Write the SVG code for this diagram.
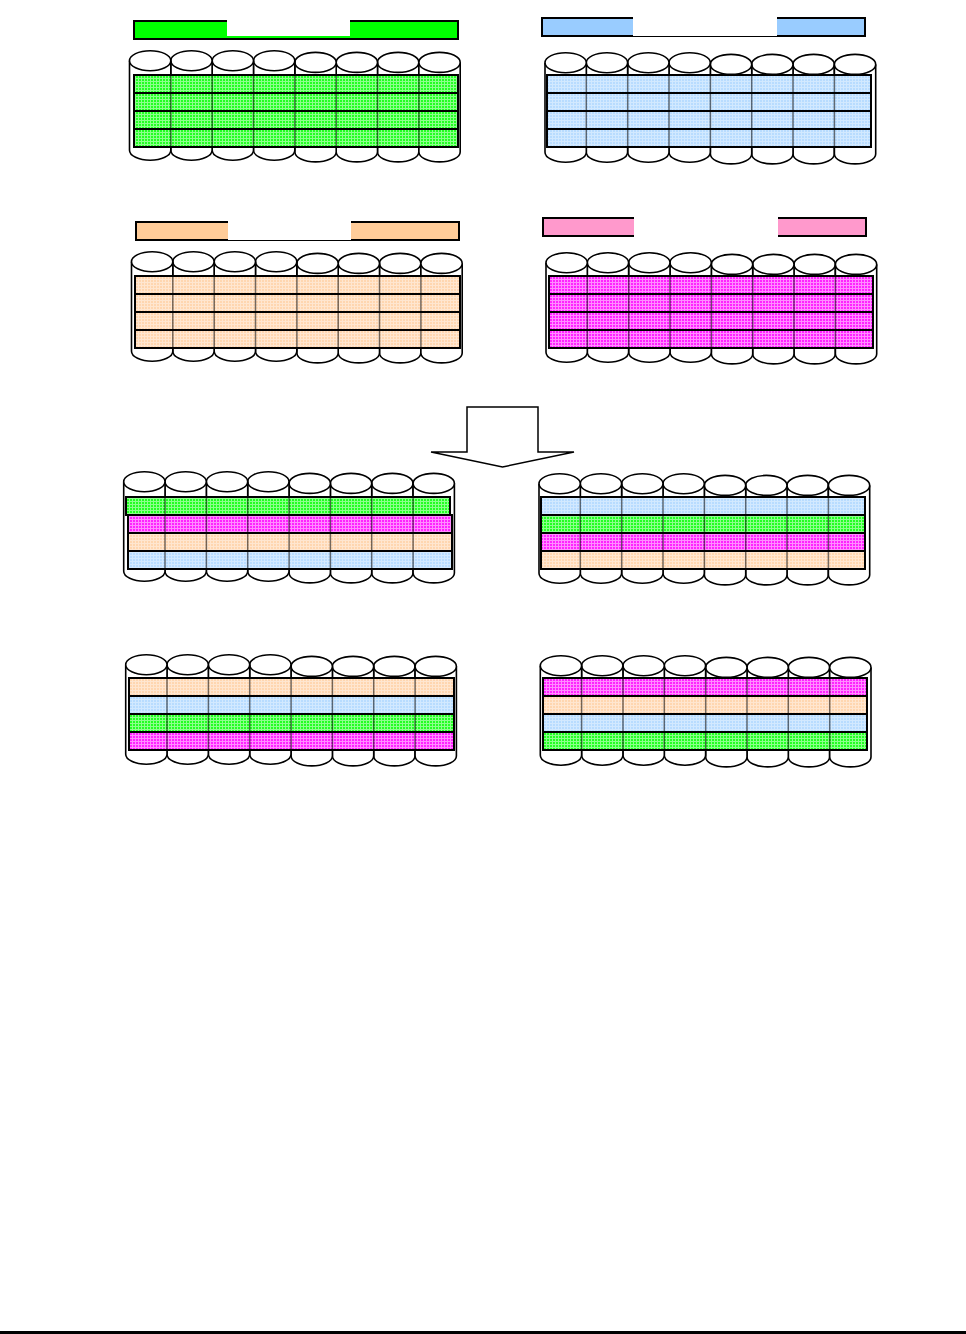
<svg xmlns="http://www.w3.org/2000/svg" width="966" height="1334" viewBox="0 0 966 1334">
<style>
.c{fill:#fff;stroke:#000;stroke-width:1.6}
.v{fill:none;stroke:#000;stroke-width:1.5;stroke-opacity:.55}
.b{stroke:#000;stroke-width:2}
.bar{stroke:#000;stroke-width:2}
.w{fill:#fff}
</style>
<defs>
<pattern id="pg" width="3" height="3" patternUnits="userSpaceOnUse"><rect width="3" height="3" fill="#22ff22"/><path d="M0 .5H3M.5 0V3" stroke="#8cff8c" stroke-width="1"/></pattern>
<pattern id="pb" width="3" height="3" patternUnits="userSpaceOnUse"><rect width="3" height="3" fill="#b8dcff"/><path d="M0 .5H3M.5 0V3" stroke="#d2e9ff" stroke-width="1"/></pattern>
<pattern id="po" width="3" height="3" patternUnits="userSpaceOnUse"><rect width="3" height="3" fill="#ffd6b0"/><path d="M0 .5H3M.5 0V3" stroke="#ffe6d0" stroke-width="1"/></pattern>
<pattern id="pm" width="3" height="3" patternUnits="userSpaceOnUse"><rect width="3" height="3" fill="#ff22ff"/><path d="M0 .5H3M.5 0V3" stroke="#ff8cff" stroke-width="1"/></pattern>
<g id="cyl"><path class="c" d="M0 10V99.5A20.65 10 0 0 0 41.3 99.5V10"/><ellipse class="c" cx="20.65" cy="10" rx="20.65" ry="10"/></g>
<g id="bank">
<use href="#cyl" x="248" y="1.7"/><use href="#cyl" x="289.4" y="1.7"/><use href="#cyl" x="206.7" y="1.7"/><use href="#cyl" x="165.4" y="1.7"/>
<use href="#cyl" x="124" y="0"/><use href="#cyl" x="82.7" y="0"/><use href="#cyl" x="41.3" y="0"/><use href="#cyl" x="0" y="0"/>
</g>
<path id="lines" class="v" d="M41.3 0V72M82.7 0V72M124 0V72M165.4 0V72M206.7 0V72M248 0V72M289.4 0V72"/>
</defs>

<g id="connectors">
<path id="arrow" d="M467 407H538V452H574L502.5 467L431 452H467Z" fill="#fff" stroke="#000" stroke-width="1.5" stroke-linejoin="miter"/>
</g>

<g id="bar-green"><rect class="bar" x="134" y="21" width="324" height="18" fill="#00ff00"/><rect class="w" x="227" y="19" width="123" height="17"/></g>
<g id="bar-blue"><rect class="bar" x="542" y="18" width="323" height="18" fill="#99ccff"/><rect class="w" x="633" y="16" width="144" height="20"/></g>
<g id="bar-orange"><rect class="bar" x="136" y="222" width="323" height="18" fill="#ffcc99"/><rect class="w" x="228" y="220" width="123" height="20"/></g>
<g id="bar-pink"><rect class="bar" x="543" y="218" width="323" height="18" fill="#ff99cc"/><rect class="w" x="634" y="216" width="144" height="22"/></g>

<g id="array-a">
<use href="#bank" x="129.5" y="50.7"/>
<rect class="b" x="134" y="75" width="324" height="18" fill="url(#pg)"/><rect class="b" x="134" y="93" width="324" height="18" fill="url(#pg)"/><rect class="b" x="134" y="111" width="324" height="18" fill="url(#pg)"/><rect class="b" x="134" y="129" width="324" height="18" fill="url(#pg)"/>
<use href="#lines" x="129.5" y="75"/>
</g>
<g id="array-b">
<use href="#bank" x="545" y="52.7"/>
<rect class="b" x="547" y="75" width="324" height="18" fill="url(#pb)"/><rect class="b" x="547" y="93" width="324" height="18" fill="url(#pb)"/><rect class="b" x="547" y="111" width="324" height="18" fill="url(#pb)"/><rect class="b" x="547" y="129" width="324" height="18" fill="url(#pb)"/>
<use href="#lines" x="545" y="75"/>
</g>
<g id="array-c">
<use href="#bank" x="131.5" y="251.7"/>
<rect class="b" x="135" y="276" width="325" height="18" fill="url(#po)"/><rect class="b" x="135" y="294" width="325" height="18" fill="url(#po)"/><rect class="b" x="135" y="312" width="325" height="18" fill="url(#po)"/><rect class="b" x="135" y="330" width="325" height="18" fill="url(#po)"/>
<use href="#lines" x="131.5" y="276"/>
</g>
<g id="array-d">
<use href="#bank" x="546" y="252.7"/>
<rect class="b" x="549" y="276" width="324" height="18" fill="url(#pm)"/><rect class="b" x="549" y="294" width="324" height="18" fill="url(#pm)"/><rect class="b" x="549" y="312" width="324" height="18" fill="url(#pm)"/><rect class="b" x="549" y="330" width="324" height="18" fill="url(#pm)"/>
<use href="#lines" x="546" y="276"/>
</g>
<g id="array-e">
<use href="#bank" x="123.7" y="471.7"/>
<rect class="b" x="128" y="515" width="324" height="18" fill="url(#pm)"/><rect class="b" x="128" y="533" width="324" height="18" fill="url(#po)"/><rect class="b" x="128" y="551" width="324" height="18" fill="url(#pb)"/><rect class="b" x="126" y="497" width="324" height="18" fill="url(#pg)"/>
<use href="#lines" x="123.7" y="497"/>
</g>
<g id="array-f">
<use href="#bank" x="539" y="473.7"/>
<rect class="b" x="541" y="497" width="324" height="18" fill="url(#pb)"/><rect class="b" x="541" y="515" width="324" height="18" fill="url(#pg)"/><rect class="b" x="541" y="533" width="324" height="18" fill="url(#pm)"/><rect class="b" x="541" y="551" width="324" height="18" fill="url(#po)"/>
<use href="#lines" x="539" y="497"/>
</g>
<g id="array-g">
<use href="#bank" x="125.7" y="654.7"/>
<rect class="b" x="129" y="678" width="325" height="18" fill="url(#po)"/><rect class="b" x="129" y="696" width="325" height="18" fill="url(#pb)"/><rect class="b" x="129" y="714" width="325" height="18" fill="url(#pg)"/><rect class="b" x="129" y="732" width="325" height="18" fill="url(#pm)"/>
<use href="#lines" x="125.7" y="678"/>
</g>
<g id="array-h">
<use href="#bank" x="540.3" y="655.7"/>
<rect class="b" x="543" y="678" width="324" height="18" fill="url(#pm)"/><rect class="b" x="543" y="696" width="324" height="18" fill="url(#po)"/><rect class="b" x="543" y="714" width="324" height="18" fill="url(#pb)"/><rect class="b" x="543" y="732" width="324" height="18" fill="url(#pg)"/>
<use href="#lines" x="540.3" y="678"/>
</g>
<rect id="rule" x="0" y="1331" width="966" height="3" fill="#000"/>
</svg>
